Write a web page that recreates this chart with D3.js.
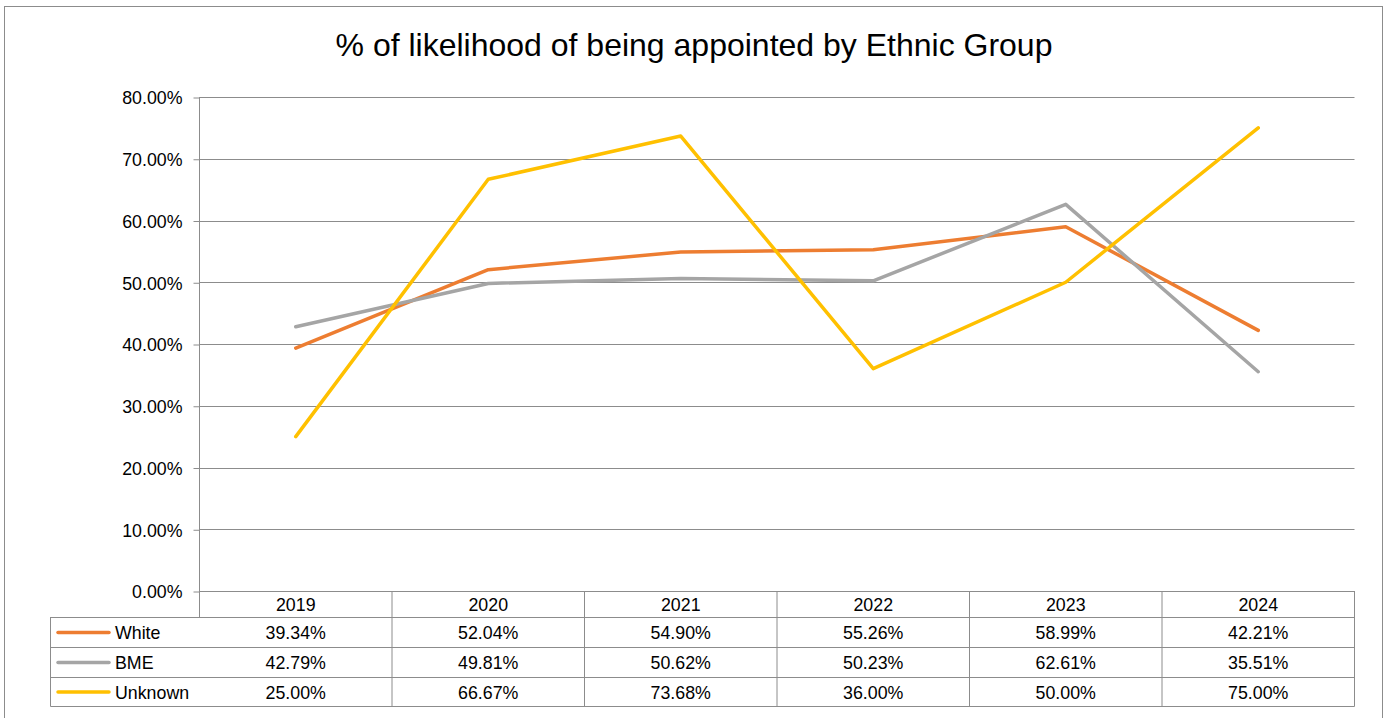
<!DOCTYPE html>
<html>
<head>
<meta charset="utf-8">
<script src="https://cdn.jsdelivr.net/npm/d3@7"></script>
<style>
  html, body { margin: 0; padding: 0; background: #fff; }
  svg { display: block; font-family: "Liberation Sans", Arial, sans-serif; }
</style>
</head>
<body>
<svg id="chart" width="1390" height="718"></svg>
<script>
// Appointment likelihood by ethnic group, 2019–2024
const title = "% of likelihood of being appointed by Ethnic Group";
const years = ["2019", "2020", "2021", "2022", "2023", "2024"];
const seriesNames = ["White", "BME", "Unknown"];
const white   = [39.34, 52.04, 54.90, 55.26, 58.99, 42.21];
const bme     = [42.79, 49.81, 50.62, 50.23, 62.61, 35.51];
const unknown = [25.00, 66.67, 73.68, 36.00, 50.00, 75.00];
const yTicks  = [0, 10, 20, 30, 40, 50, 60, 70, 80];
const colors  = ["#ED7D31", "#A5A5A5", "#FFC000"];

const series = seriesNames.map((name, i) => ({
  name, color: colors[i], values: [white, bme, unknown][i]
}));

const svg = d3.select("#chart");
const gridColor = "#8c8c8c";
const labelSize = 17.8;

// outer frame
svg.append("rect")
  .attr("x", 4.5).attr("y", 6.5)
  .attr("width", 1378).attr("height", 730)
  .attr("fill", "none").attr("stroke", gridColor).attr("stroke-width", 1);

// title
svg.append("text")
  .attr("x", 694).attr("y", 56)
  .attr("text-anchor", "middle")
  .attr("font-size", 32)
  .attr("fill", "#000")
  .text(title);

const plot = { left: 199.5, right: 1354.5, top: 97, bottom: 591 };

const x = d3.scaleBand().domain(years).range([plot.left, plot.right]).padding(0);
const y = d3.scaleLinear().domain([0, 80]).range([plot.bottom, plot.top]);

// horizontal gridlines
svg.append("g")
  .selectAll("line")
  .data(yTicks)
  .join("line")
  .attr("x1", plot.left).attr("x2", plot.right)
  .attr("y1", d => Math.round(y(d)) + 0.5).attr("y2", d => Math.round(y(d)) + 0.5)
  .attr("stroke", gridColor).attr("stroke-width", 1);

// y axis
const yAxis = d3.axisLeft(y)
  .tickValues(yTicks)
  .tickSize(6)
  .tickPadding(11)
  .tickFormat(d => d3.format(".2f")(d) + "%");

const yG = svg.append("g")
  .attr("transform", `translate(${plot.left},0.5)`)
  .call(yAxis);
yG.select(".domain").remove();
yG.selectAll(".tick line").attr("stroke", gridColor);
yG.selectAll(".tick text")
  .attr("font-size", labelSize)
  .attr("font-family", "Liberation Sans, Arial, sans-serif")
  .attr("fill", "#000")
  .attr("dy", "0.36em");

// y-axis line continues down through the header row
svg.append("line")
  .attr("x1", plot.left).attr("x2", plot.left)
  .attr("y1", plot.top).attr("y2", 617)
  .attr("stroke", gridColor);

// data table
const rowEdges = [591, 617, 647, 677, 706];
const tableLeft = 50.5;
const tg = svg.append("g");

// header row: year labels with column dividers
years.forEach((yr, i) => {
  const x0 = x(yr), x1 = x0 + x.bandwidth();
  tg.append("line").attr("x1", x1).attr("x2", x1)
    .attr("y1", rowEdges[0]).attr("y2", rowEdges[4] + 0.5)
    .attr("stroke", gridColor);
  tg.append("text")
    .attr("x", x0 + x.bandwidth() / 2)
    .attr("y", (rowEdges[0] + rowEdges[1]) / 2 + 6.5)
    .attr("text-anchor", "middle")
    .attr("font-size", labelSize)
    .text(yr);
});

// horizontal table rules
rowEdges.slice(1).forEach(ry => {
  tg.append("line")
    .attr("x1", tableLeft).attr("x2", plot.right)
    .attr("y1", ry + 0.5).attr("y2", ry + 0.5)
    .attr("stroke", gridColor);
});
// left edge of the legend column
tg.append("line")
  .attr("x1", tableLeft).attr("x2", tableLeft)
  .attr("y1", rowEdges[1]).attr("y2", rowEdges[4] + 0.5)
  .attr("stroke", gridColor);

series.forEach((s, r) => {
  const top = rowEdges[r + 1], bot = rowEdges[r + 2];
  const cy = (top + bot) / 2 + 0.5;
  tg.append("line")
    .attr("x1", 58).attr("x2", 109)
    .attr("y1", cy).attr("y2", cy)
    .attr("stroke", s.color).attr("stroke-width", 3.5)
    .attr("stroke-linecap", "round");
  tg.append("text")
    .attr("x", 115).attr("y", cy + 6.5)
    .attr("font-size", labelSize)
    .text(s.name);
  s.values.forEach((v, i) => {
    tg.append("text")
      .attr("x", x(years[i]) + x.bandwidth() / 2)
      .attr("y", cy + 6.5)
      .attr("text-anchor", "middle")
      .attr("font-size", labelSize)
      .text(d3.format(".2f")(v) + "%");
  });
});

// series lines
const line = d3.line()
  .x((d, i) => x(years[i]) + x.bandwidth() / 2)
  .y(d => y(d));

svg.append("g")
  .selectAll("path")
  .data(series)
  .join("path")
  .attr("d", d => line(d.values))
  .attr("fill", "none")
  .attr("stroke", d => d.color)
  .attr("stroke-width", 3.5)
  .attr("stroke-linejoin", "round")
  .attr("stroke-linecap", "round");
</script>
</body>
</html>
